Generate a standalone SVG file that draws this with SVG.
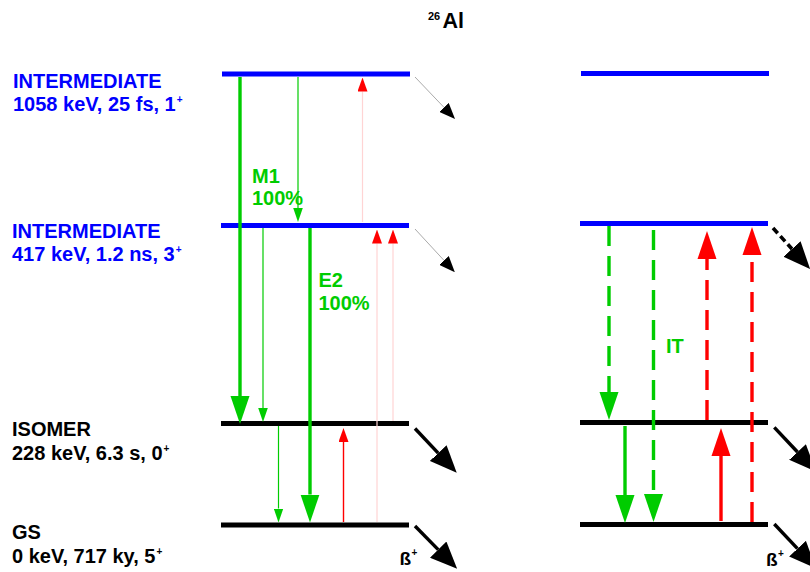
<svg xmlns="http://www.w3.org/2000/svg" width="810" height="572" viewBox="0 0 810 572">
<style>
text{font-family:"Liberation Sans",Arial,sans-serif;font-weight:bold;}
.lbl{font-size:20px;}
.blue{fill:#0000ff;}
.blk{fill:#000000;}
.grn{fill:#00cc00;}
.sup{font-size:10px;}
.lvB{stroke:#0000ff;stroke-width:5;}
.lvK{stroke:#000000;stroke-width:5;}
.gTh{stroke:#00cc00;stroke-width:3.4;fill:none;}
.gTn{stroke:#00cc00;stroke-width:1.2;fill:none;}
.rTh{stroke:#ff0000;stroke-width:3.4;fill:none;}
.rTn{stroke:#ff0000;stroke-width:1.4;fill:none;}
.pink{stroke:#ffd4d4;stroke-width:1.2;fill:none;}
.dash{stroke-dasharray:20,10;}
.bThin{stroke:#aaaaaa;stroke-width:1;fill:none;}
.bTh{stroke:#000000;stroke-width:3.4;fill:none;}
.bDash{stroke:#000000;stroke-width:3.6;fill:none;stroke-dasharray:7,4;}
</style>
<defs>
<marker id="mgTh" markerUnits="userSpaceOnUse" markerWidth="28" markerHeight="20" refX="0" refY="10" orient="auto" viewBox="0 0 28 20"><path d="M0,0.5 L28,10 L0,19.5 z" fill="#00cc00"/></marker>
<marker id="mgTn" markerUnits="userSpaceOnUse" markerWidth="14" markerHeight="10" refX="0" refY="5" orient="auto" viewBox="0 0 14 10"><path d="M0,0.2 L14,5 L0,9.8 z" fill="#00cc00"/></marker>
<marker id="mrTh" markerUnits="userSpaceOnUse" markerWidth="28" markerHeight="20" refX="0" refY="10" orient="auto" viewBox="0 0 28 20"><path d="M0,0.5 L28,10 L0,19.5 z" fill="#ff0000"/></marker>
<marker id="mrTn" markerUnits="userSpaceOnUse" markerWidth="14" markerHeight="10" refX="0" refY="5" orient="auto" viewBox="0 0 14 10"><path d="M0,0 L14,5 L0,10 z" fill="#ff0000"/></marker>
<marker id="mbTn" markerUnits="userSpaceOnUse" markerWidth="16" markerHeight="13" refX="0" refY="6.5" orient="auto" viewBox="0 0 16 13"><path d="M0,0 L16,6.5 L0,13 z" fill="#000000"/></marker>
<marker id="mbTh" markerUnits="userSpaceOnUse" markerWidth="27" markerHeight="23" refX="0" refY="11.5" orient="auto" viewBox="0 0 27 23"><path d="M0,0 L27,11.5 L0,23 z" fill="#000000"/></marker>
</defs>

<g id="title">
<text x="428" y="19.5" font-size="11px" class="blk">26</text>
<text x="442.5" y="28" font-size="21.5px" class="blk">Al</text>
</g>

<g id="label-1058">
<text class="lbl blue" x="13" y="87.5">INTERMEDIATE</text>
<text class="lbl blue" x="13" y="110.5">1058 keV, 25 fs, 1<tspan class="sup" dx="1" dy="-8">+</tspan></text>
</g>
<g id="label-417">
<text class="lbl blue" x="12" y="237.5">INTERMEDIATE</text>
<text class="lbl blue" x="12" y="260.5">417 keV, 1.2 ns, 3<tspan class="sup" dx="1" dy="-8">+</tspan></text>
</g>
<g id="label-isomer">
<text class="lbl blk" x="12" y="436">ISOMER</text>
<text class="lbl blk" x="12" y="460">228 keV, 6.3 s, 0<tspan class="sup" dx="1" dy="-8">+</tspan></text>
</g>
<g id="label-gs">
<text class="lbl blk" x="12" y="538.5">GS</text>
<text class="lbl blk" x="12" y="562.5">0 keV, 717 ky, 5<tspan class="sup" dx="1" dy="-8">+</tspan></text>
</g>

<g id="level-left-1058"><line class="lvB" x1="222" y1="74" x2="410" y2="74"/></g>
<g id="level-left-417"><line class="lvB" x1="221" y1="225.5" x2="409" y2="225.5"/></g>
<g id="level-left-isomer"><line class="lvK" x1="221" y1="423.5" x2="409" y2="423.5"/></g>
<g id="level-left-gs"><line class="lvK" x1="221" y1="525" x2="409" y2="525"/></g>

<g id="level-right-1058"><line class="lvB" x1="581" y1="73.5" x2="769" y2="73.5"/></g>
<g id="level-right-417"><line class="lvB" x1="580" y1="223.5" x2="768" y2="223.5"/></g>
<g id="level-right-isomer"><line class="lvK" x1="580" y1="422.5" x2="768" y2="422.5"/></g>
<g id="level-right-gs"><line class="lvK" x1="580" y1="524.5" x2="768" y2="524.5"/></g>

<g id="connectors">
<line class="gTh" x1="240" y1="77" x2="240" y2="396" marker-end="url(#mgTh)"/>
<line class="gTn" x1="298" y1="77" x2="298" y2="208" marker-end="url(#mgTn)"/>
<line class="pink" x1="362.5" y1="222" x2="362.5" y2="91.5" marker-end="url(#mrTn)"/>
<line class="gTn" x1="263" y1="228" x2="263" y2="408" marker-end="url(#mgTn)"/>
<line class="gTh" x1="310" y1="228" x2="310" y2="494.5" marker-end="url(#mgTh)"/>
<line class="pink" x1="377" y1="522" x2="377" y2="243.5" marker-end="url(#mrTn)"/>
<line class="pink" x1="393" y1="421" x2="393" y2="243.5" marker-end="url(#mrTn)"/>
<line class="gTn" x1="278.5" y1="426" x2="278.5" y2="508.5" marker-end="url(#mgTn)"/>
<line class="rTn" x1="343.5" y1="522" x2="343.5" y2="442" marker-end="url(#mrTn)"/>
<line class="bThin" x1="415" y1="77" x2="444" y2="107.4" marker-end="url(#mbTn)"/>
<line class="bThin" x1="415" y1="229" x2="444" y2="260.4" marker-end="url(#mbTn)"/>
<line class="bTh" x1="415" y1="428.5" x2="438.2" y2="453.1" marker-end="url(#mbTh)"/>
<line class="bTh" x1="415" y1="526" x2="438.2" y2="549.6" marker-end="url(#mbTh)"/>
<line class="gTh dash" x1="609" y1="226" x2="609" y2="392" marker-end="url(#mgTh)"/>
<line class="gTh dash" x1="653.5" y1="230" x2="653.5" y2="494" marker-end="url(#mgTh)"/>
<line class="rTh dash" x1="707" y1="420" x2="707" y2="259" marker-end="url(#mrTh)"/>
<line class="rTh dash" x1="752" y1="522" x2="752" y2="255" marker-end="url(#mrTh)"/>
<line class="gTh" x1="625" y1="426" x2="625" y2="495" marker-end="url(#mgTh)"/>
<line class="rTh" x1="721" y1="521" x2="721" y2="456" marker-end="url(#mrTh)"/>
<line class="bDash" x1="773" y1="228" x2="792" y2="249" marker-end="url(#mbTh)"/>
<line class="bTh" x1="774.3" y1="427.3" x2="797.5" y2="452" marker-end="url(#mbTh)"/>
<line class="bTh" x1="774.3" y1="524" x2="797.5" y2="548.7" marker-end="url(#mbTh)"/>
</g>

<g id="transition-labels">
<text class="lbl grn" x="252" y="182.5">M1</text>
<text class="lbl grn" x="252" y="205">100%</text>
<text class="lbl grn" x="318.5" y="287">E2</text>
<text class="lbl grn" x="318.5" y="309.5">100%</text>
<text class="lbl grn" x="666" y="353">IT</text>
</g>

<g id="beta-labels">
<text class="blk" font-size="19px" x="399.5" y="565">ß<tspan class="sup" dx="0.5" dy="-9">+</tspan></text>
<text class="blk" font-size="19px" x="766" y="566">ß<tspan class="sup" dx="0.5" dy="-9">+</tspan></text>
</g>
</svg>
